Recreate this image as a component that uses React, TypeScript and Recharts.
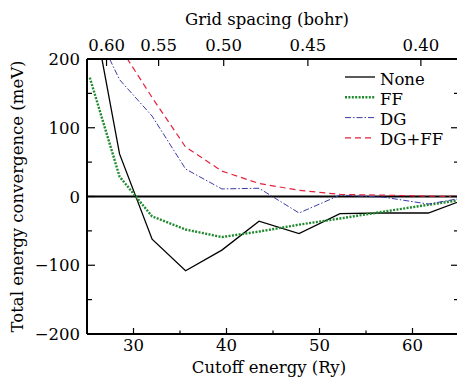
import { LineChart, Line, XAxis, YAxis, ReferenceLine, Legend } from 'recharts';

// Cutoff energies (Ry) of the computed points
const cutoff = [25.3, 28.5, 32.0, 35.6, 39.5, 43.5, 47.8, 52.2, 56.9, 61.7, 66.7];

// Total energy convergence (meV)
const none = [295, 62, -62, -108, -78, -36, -54, -25, -24, -24, 1];
const ff = [173, 29, -29, -48, -59, -51, -41, -32, -22, -12, -2];
const dg = [260, 170, 117, 40, 11, 12, -24, 2, -1, -11, 1];
const dgff = [320, 218, 144, 72, 37, 19, 9, 3, 2, 0.5, 0];

// Axis ticks
const cutoffTicks = [25, 30, 35, 40, 45, 50, 55, 60, 65];
const energyTicks = [-200, -150, -100, -50, 0, 50, 100, 150, 200];
const gridSpacingLabels = ['0.60', '0.55', '0.50', '0.45', '0.40'];
const gridSpacingAt = [27.1, 32.7, 39.7, 48.75, 60.9];

const data = cutoff.map((e, i) => ({
  e,
  none: none[i],
  ff: ff[i],
  dg: dg[i],
  dgff: dgff[i],
}));

// only serif face available in the sandbox
const FONT = 'DejaVu Serif';
const FS = 16.5;

const series = [
  { key: 'none', name: 'None', color: '#000000', width: 1.3, dash: undefined },
  { key: 'ff', name: 'FF', color: '#1f8a2e', width: 2.4, dash: '2 1.4' },
  { key: 'dg', name: 'DG', color: '#3b3ba8', width: 1, dash: '6 2 1.5 2' },
  { key: 'dgff', name: 'DG+FF', color: '#e3223c', width: 1.2, dash: '6 4' },
];

const BottomTick = ({ x, y, payload }: any) => {
  const major = payload.value % 10 === 0;
  return (
    <g>
      <line x1={x} y1={y} x2={x} y2={y - (major ? 6 : 3.5)} stroke="#000" strokeWidth={1.2} />
      {major && (
        <text x={x} y={y + 17} textAnchor="middle" fontFamily={FONT} fontSize={FS} fill="#000">
          {payload.value}
        </text>
      )}
    </g>
  );
};

const LeftTick = ({ x, y, payload }: any) => {
  const major = payload.value % 100 === 0;
  const label = payload.value < 0 ? `\u2212${-payload.value}` : `${payload.value}`;
  return (
    <g>
      <line x1={x} y1={y} x2={x + (major ? 8 : 5)} y2={y} stroke="#000" strokeWidth={1.2} />
      {major && (
        <text x={x - 7} y={y + 6} textAnchor="end" fontFamily={FONT} fontSize={FS} fill="#000">
          {label}
        </text>
      )}
    </g>
  );
};

const RightTick = ({ x, y, payload }: any) => {
  const major = payload.value % 100 === 0;
  return <line x1={x} y1={y} x2={x - (major ? 8 : 5)} y2={y} stroke="#000" strokeWidth={1.2} />;
};

const TopTick = ({ x, y, index }: any) => (
  <g>
    <line x1={x} y1={y} x2={x} y2={y + 7} stroke="#000" strokeWidth={1.2} />
    <text x={x} y={y - 8.5} textAnchor="middle" fontFamily={FONT} fontSize={FS} fill="#000">
      {gridSpacingLabels[index]}
    </text>
  </g>
);

const renderLegend = () => (
  <svg width={119} height={90}>
    {series.map((s, i) => {
      const cy = 15 + i * 20.3;
      return (
        <g key={s.key}>
          <line x1={7} y1={cy} x2={37} y2={cy} stroke={s.color} strokeWidth={s.width} strokeDasharray={s.dash} />
          <text x={42} y={cy + 7.5} fontFamily={FONT} fontSize={FS} fill="#000">
            {s.name}
          </text>
        </g>
      );
    })}
  </svg>
);

export default function App() {
  return (
    <div style={{ position: 'absolute', left: 0, top: 0, width: 457, height: 381, overflow: 'hidden', background: '#fff' }}>
      <LineChart width={470} height={381} data={data} margin={{ top: 0, right: 0, bottom: 0, left: 0 }}>
        <XAxis
          xAxisId="bottom"
          dataKey="e"
          type="number"
          domain={[25, 65]}
          ticks={cutoffTicks}
          interval={0}
          allowDataOverflow
          height={47}
          tickSize={0}
          tickMargin={0}
          tick={<BottomTick />}
          tickLine={false}
          axisLine={{ stroke: '#000', strokeWidth: 2 }}
          label={{ value: 'Cutoff energy (Ry)', position: 'insideBottom', offset: 8, dx: -4, fill: '#000', fontSize: FS, fontFamily: FONT }}
        />
        <XAxis
          xAxisId="top"
          orientation="top"
          dataKey="e"
          type="number"
          domain={[25, 65]}
          ticks={gridSpacingAt}
          interval={0}
          allowDataOverflow
          height={59}
          tickSize={0}
          tickMargin={0}
          tick={<TopTick />}
          tickLine={false}
          axisLine={{ stroke: '#000', strokeWidth: 2 }}
          label={{ value: 'Grid spacing (bohr)', position: 'insideTop', offset: 13, dx: -6, fill: '#000', fontSize: FS, fontFamily: FONT }}
        />
        <YAxis
          yAxisId="left"
          type="number"
          domain={[-200, 200]}
          ticks={energyTicks}
          interval={0}
          allowDataOverflow
          width={87}
          tickSize={0}
          tickMargin={0}
          tick={<LeftTick />}
          tickLine={false}
          axisLine={{ stroke: '#000', strokeWidth: 2 }}
          label={{
            value: 'Total energy convergence (meV)',
            angle: -90,
            position: 'insideLeft',
            offset: 17,
            fill: '#000',
            fontSize: FS,
            fontFamily: FONT,
            style: { textAnchor: 'middle' },
          }}
        />
        <YAxis
          yAxisId="right"
          orientation="right"
          type="number"
          domain={[-200, 200]}
          ticks={energyTicks}
          interval={0}
          allowDataOverflow
          width={11}
          tickSize={0}
          tickMargin={0}
          tick={<RightTick />}
          tickLine={false}
          axisLine={{ stroke: '#000', strokeWidth: 2 }}
        />
        <ReferenceLine xAxisId="bottom" yAxisId="left" y={0} stroke="#000" strokeWidth={2} />
        {series.map((s) => (
          <Line
            key={s.key}
            xAxisId="bottom"
            yAxisId="left"
            type="linear"
            dataKey={s.key}
            name={s.name}
            stroke={s.color}
            strokeWidth={s.width}
            strokeDasharray={s.dash}
            dot={false}
            activeDot={false}
            isAnimationActive={false}
          />
        ))}
        <Legend
          layout="horizontal"
          align="center"
          verticalAlign="middle"
          content={renderLegend}
          wrapperStyle={{ position: 'absolute', left: 338, top: 62, width: 119, height: 90 }}
        />
      </LineChart>
    </div>
  );
}
